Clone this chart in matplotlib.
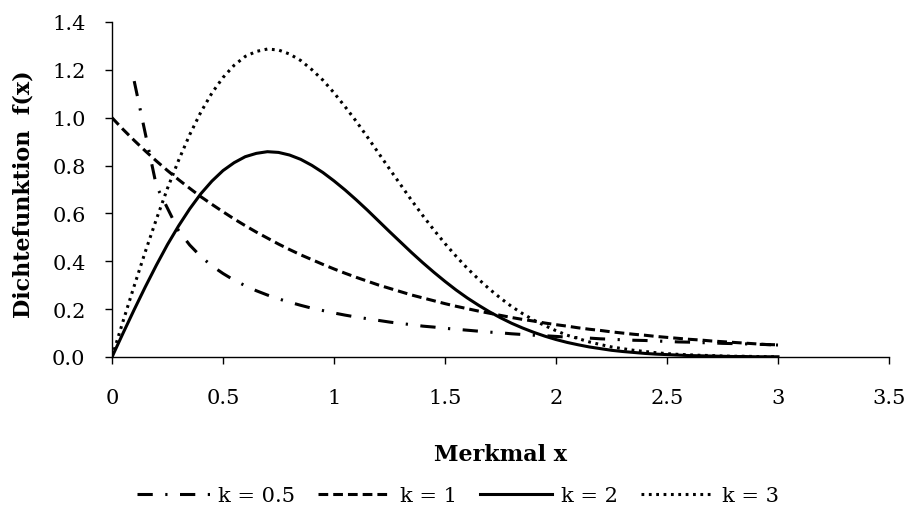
import numpy as np
import matplotlib
matplotlib.use('Agg')
from matplotlib import pyplot as plt

# valori (passo 0.05)
x = [0.00, 0.05, 0.10, 0.15, 0.20, 0.25, 0.30, 0.35, 0.40, 0.45,
     0.50, 0.55, 0.60, 0.65, 0.70, 0.75, 0.80, 0.85, 0.90, 0.95,
     1.00, 1.05, 1.10, 1.15, 1.20, 1.25, 1.30, 1.35, 1.40, 1.45,
     1.50, 1.55, 1.60, 1.65, 1.70, 1.75, 1.80, 1.85, 1.90, 1.95,
     2.00, 2.05, 2.10, 2.15, 2.20, 2.25, 2.30, 2.35, 2.40, 2.45,
     2.50, 2.55, 2.60, 2.65, 2.70, 2.75, 2.80, 2.85, 2.90, 2.95, 3.00]

# k = 0.5 parte da x = 0.1 (punti piu' radi all'inizio come nell'originale)
x_k05 = [0.10, 0.20, 0.30, 0.35, 0.40, 0.45,
         0.50, 0.55, 0.60, 0.65, 0.70, 0.75, 0.80, 0.85, 0.90, 0.95,
         1.00, 1.05, 1.10, 1.15, 1.20, 1.25, 1.30, 1.35, 1.40, 1.45,
         1.50, 1.55, 1.60, 1.65, 1.70, 1.75, 1.80, 1.85, 1.90, 1.95,
         2.00, 2.05, 2.10, 2.15, 2.20, 2.25, 2.30, 2.35, 2.40, 2.45,
         2.50, 2.55, 2.60, 2.65, 2.70, 2.75, 2.80, 2.85, 2.90, 2.95, 3.00]
f_k05 = [1.153, 0.715, 0.528, 0.468, 0.420, 0.381,
         0.349, 0.321, 0.298, 0.277, 0.259, 0.243, 0.229, 0.216, 0.204, 0.194,
         0.184, 0.175, 0.167, 0.160, 0.153, 0.146, 0.140, 0.135, 0.129, 0.125,
         0.120, 0.116, 0.112, 0.108, 0.104, 0.101, 0.097, 0.094, 0.091, 0.089,
         0.086, 0.083, 0.081, 0.079, 0.076, 0.074, 0.072, 0.070, 0.069, 0.067,
         0.065, 0.063, 0.062, 0.060, 0.059, 0.057, 0.056, 0.055, 0.053, 0.052, 0.051]

f_k1 = [1.000, 0.951, 0.905, 0.861, 0.819, 0.779, 0.741, 0.705, 0.670, 0.638,
        0.607, 0.577, 0.549, 0.522, 0.497, 0.472, 0.449, 0.427, 0.407, 0.387,
        0.368, 0.350, 0.333, 0.317, 0.301, 0.287, 0.273, 0.259, 0.247, 0.235,
        0.223, 0.212, 0.202, 0.192, 0.183, 0.174, 0.165, 0.157, 0.150, 0.142,
        0.135, 0.129, 0.122, 0.116, 0.111, 0.105, 0.100, 0.095, 0.091, 0.086,
        0.082, 0.078, 0.074, 0.071, 0.067, 0.064, 0.061, 0.058, 0.055, 0.052, 0.050]

f_k2 = [0.000, 0.100, 0.198, 0.293, 0.384, 0.470, 0.548, 0.619, 0.682, 0.735,
        0.779, 0.812, 0.837, 0.851, 0.858, 0.855, 0.844, 0.826, 0.801, 0.771,
        0.736, 0.698, 0.657, 0.614, 0.569, 0.524, 0.480, 0.436, 0.394, 0.354,
        0.316, 0.280, 0.247, 0.217, 0.189, 0.164, 0.141, 0.121, 0.103, 0.087,
        0.073, 0.061, 0.051, 0.042, 0.035, 0.028, 0.023, 0.019, 0.015, 0.012,
        0.010, 0.008, 0.006, 0.005, 0.004, 0.003, 0.002, 0.002, 0.001, 0.001, 0.001]

f_k3 = [0.000, 0.150, 0.297, 0.440, 0.576, 0.705, 0.822, 0.929, 1.023, 1.103,
        1.168, 1.219, 1.256, 1.277, 1.287, 1.283, 1.266, 1.239, 1.201, 1.157,
        1.104, 1.046, 0.985, 0.920, 0.853, 0.786, 0.720, 0.654, 0.591, 0.531,
        0.474, 0.421, 0.371, 0.326, 0.284, 0.246, 0.211, 0.181, 0.154, 0.131,
        0.110, 0.091, 0.077, 0.063, 0.052, 0.042, 0.035, 0.028, 0.023, 0.018,
        0.014, 0.011, 0.009, 0.007, 0.006, 0.004, 0.003, 0.003, 0.002, 0.001, 0.001]

x_ticks = [0, 0.5, 1, 1.5, 2, 2.5, 3, 3.5]
x_tick_labels = ['0', '0.5', '1', '1.5', '2', '2.5', '3', '3.5']
y_ticks = [0.0, 0.2, 0.4, 0.6, 0.8, 1.0, 1.2, 1.4]

plt.rcParams['font.family'] = ['DejaVu Serif']
plt.rcParams['lines.scale_dashes'] = False

fig = plt.figure(figsize=(9.1, 5.1), dpi=100)
ax = fig.add_axes([112 / 910, 1 - 358 / 510, 777 / 910, 335 / 510])

lw = 2.2
ax.plot(x_k05, f_k05, color='black', lw=lw, dashes=(11, 9, 1.6, 9), label='k = 0.5')
ax.plot(x, f_k1, color='black', lw=lw, dashes=(7, 3.6), label='k = 1')
ax.plot(x, f_k2, color='black', lw=lw, label='k = 2')
ax.plot(x, f_k3, color='black', lw=lw, dashes=(2, 3.3), label='k = 3')

ax.set_xlim(0, 3.5)
ax.set_ylim(0, 1.4)
ax.set_xticks(x_ticks)
ax.set_xticklabels(x_tick_labels)
ax.set_yticks(y_ticks)
ax.set_yticklabels([f'{v:.1f}' for v in y_ticks])

for s in ['top', 'right']:
    ax.spines[s].set_visible(False)
for s in ['left', 'bottom']:
    ax.spines[s].set_linewidth(1.0)

ax.tick_params(axis='both', direction='out', length=5, width=1.0,
               labelsize=15, color='black')
ax.tick_params(axis='y', pad=14)
ax.tick_params(axis='x', pad=17)

fig.text(24 / 910, 1 - 194 / 510, 'Dichtefunktion  f(x)', rotation=90,
         ha='center', va='center', fontsize=16, fontweight='bold')
fig.text(500 / 910, 1 - 455 / 510, 'Merkmal x', ha='center', va='center',
         fontsize=16, fontweight='bold')

fig.legend(loc='center', bbox_to_anchor=(458 / 910, 1 - 497 / 510), ncol=4,
           frameon=False, fontsize=15, handlelength=3.5, handletextpad=0.4,
           columnspacing=1.1)

plt.savefig('out.png', dpi=100)
